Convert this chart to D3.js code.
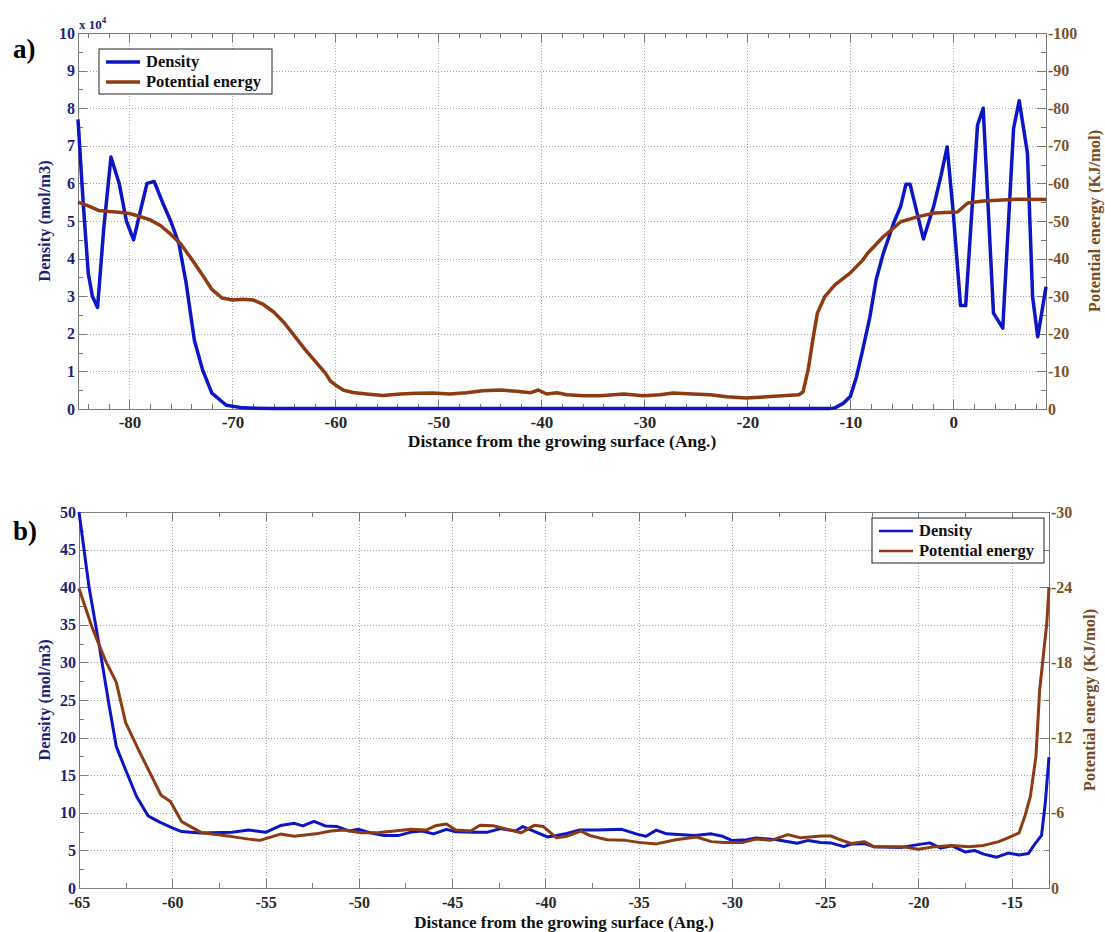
<!DOCTYPE html>
<meta charset="utf-8">
<style>
body { margin: 0; background: #fff; }
svg text { font-family: 'Liberation Serif', 'Times New Roman', serif; font-weight: bold; }
.grid line { stroke: #a8a8a8; stroke-dasharray: 1,2; shape-rendering: crispEdges; }
.grid path { stroke-width: 0; }
.axis path, .axis line { stroke: #7a7a7a; fill: none; shape-rendering: crispEdges; }
.frame { stroke: #7a7a7a; fill: none; shape-rendering: crispEdges; }
.density { stroke: #0c16c4; fill: none; stroke-linejoin: round; }
.potential { stroke: #8c3b12; fill: none; stroke-linejoin: round; }
.left text { fill: #1d1f78; font-size: 16px; }
.right text { fill: #7b5228; font-size: 16px; }
.bottom text { fill: #2a2a2a; }
</style>
<body>
<script src="https://d3js.org/d3.v7.min.js"></script>
<script>
// ---- panel a data: x (Ang.), density (x 10^4 mol/m3), potential (KJ/mol)
var densityA = [
  [-85,7.7],[-84.5,5.5],[-84,3.6],[-83.6,3.0],[-83.1,2.7],[-82.5,4.8],[-81.8,6.7],[-81,6.0],
  [-80.3,5.0],[-79.6,4.5],[-79,5.2],[-78.3,6.0],[-77.6,6.05],[-76.8,5.5],[-76,5.0],[-75.2,4.4],
  [-74.5,3.35],[-73.7,1.83],[-72.9,1.04],[-72,0.42],[-70.6,0.1],[-69,0.03],[-66,0.01],[-12,0.01],
  [-11.5,0.03],[-10.7,0.15],[-10,0.33],[-9.4,0.86],[-8.8,1.57],[-8.1,2.45],[-7.5,3.43],[-6.8,4.14],
  [-5.8,4.94],[-5.1,5.4],[-4.6,5.98],[-4.2,5.98],[-2.9,4.52],[-1.9,5.4],[-1.2,6.2],[-0.6,6.97],
  [0,5.2],[0.7,2.75],[1.2,2.75],[2.35,7.55],[2.9,8.0],[3.9,2.55],[4.8,2.15],[5.85,7.46],
  [6.4,8.2],[7.2,6.8],[7.7,2.98],[8.2,1.92],[9,3.25]
];
var potentialA = [
  [-85,-55],[-84,-54],[-83,-52.8],[-82,-52.5],[-81,-52.3],[-80,-52],[-79,-51.2],[-78,-50.3],
  [-77,-48.8],[-76,-46.5],[-75,-43.8],[-74,-40],[-73,-36],[-72,-31.8],[-71,-29.5],[-70,-29],
  [-69,-29.2],[-68,-29],[-67,-27.8],[-66,-25.8],[-65,-23],[-64,-19.5],[-63,-16],[-62,-12.8],
  [-61,-9.6],[-60.5,-7.5],[-60,-6.4],[-59.2,-5],[-58.3,-4.4],[-57,-4],[-55.4,-3.6],[-53.7,-4],
  [-52.1,-4.2],[-50.5,-4.25],[-48.9,-4],[-47.3,-4.3],[-45.7,-4.87],[-44,-5.05],[-42.4,-4.7],
  [-41.1,-4.3],[-40.3,-5.05],[-39.5,-4],[-38.5,-4.3],[-37.5,-3.8],[-35.9,-3.5],[-34.3,-3.5],
  [-32,-4],[-30.1,-3.5],[-28.5,-3.8],[-27.2,-4.25],[-25.3,-4],[-23.6,-3.8],[-22,-3.27],
  [-20.1,-2.92],[-18.1,-3.27],[-16.2,-3.6],[-15,-3.8],[-14.6,-4.5],[-14.1,-10.4],[-13.6,-19.1],
  [-13.2,-25.5],[-12.5,-29.8],[-11.5,-33],[-10,-36.2],[-8.8,-39.6],[-8.3,-41.5],[-6.8,-45.8],
  [-5.1,-49.8],[-3.5,-51.1],[-1.9,-52.1],[0.4,-52.4],[1.4,-54.8],[2.9,-55.3],[6.2,-55.8],[9,-55.7]
];
// ---- panel b data
var densityB = [
  [-65,50],[-64.46,40],[-63.9,32],[-63.4,24.5],[-63,18.8],[-62.5,15.7],[-61.9,12.1],[-61.3,9.6],
  [-60.7,8.8],[-60,8.0],[-59.5,7.5],[-58.5,7.3],[-56.8,7.4],[-55.9,7.7],[-55,7.4],[-54.2,8.3],
  [-53.45,8.6],[-53,8.26],[-52.4,8.85],[-51.8,8.26],[-51.15,8.17],[-50.5,7.57],[-50,7.8],
  [-49.4,7.34],[-48.65,6.97],[-47.9,6.97],[-47.2,7.43],[-46.6,7.57],[-46,7.2],[-45.3,7.8],
  [-44.8,7.48],[-43.85,7.43],[-43.1,7.43],[-42.4,7.9],[-41.6,7.57],[-41.2,8.17],[-40.5,7.43],
  [-39.9,6.79],[-39.4,6.97],[-38.85,7.25],[-38.2,7.7],[-37.2,7.7],[-35.9,7.8],[-35,7.1],
  [-34.6,6.88],[-34.05,7.7],[-33.5,7.2],[-32,6.97],[-31.1,7.2],[-30.5,6.88],[-30,6.33],
  [-29.2,6.42],[-28.7,6.65],[-27.6,6.42],[-26.5,5.96],[-25.9,6.33],[-25.25,6.06],[-24.7,6.0],
  [-24,5.5],[-23.6,5.85],[-22.9,5.9],[-22.4,5.5],[-20.9,5.4],[-20.2,5.7],[-19.4,6.0],[-18.8,5.3],
  [-18.2,5.6],[-17.5,4.8],[-17,5.0],[-16.5,4.5],[-15.8,4.1],[-15.2,4.65],[-14.6,4.4],[-14.1,4.6],
  [-13.8,5.7],[-13.4,7.0],[-13.2,11.3],[-13,17.4]
];
var potentialB = [
  [-65,-23.9],[-64.3,-20.8],[-63.6,-18.2],[-63,-16.4],[-62.5,-13.2],[-61.8,-11],[-61.1,-8.9],
  [-60.6,-7.4],[-60.1,-6.9],[-59.5,-5.3],[-58.9,-4.8],[-58.4,-4.4],[-56.8,-4.1],[-55.9,-3.9],
  [-55.3,-3.8],[-54.2,-4.3],[-53.45,-4.13],[-52.3,-4.32],[-51.5,-4.54],[-50.8,-4.62],[-49.9,-4.4],
  [-49,-4.4],[-48.1,-4.54],[-47.2,-4.68],[-46.4,-4.62],[-45.9,-4.96],[-45.3,-5.1],[-44.8,-4.62],
  [-44,-4.54],[-43.5,-5.0],[-42.8,-4.96],[-42,-4.68],[-41.3,-4.4],[-40.6,-5.0],[-40.1,-4.9],
  [-39.4,-4.0],[-38.85,-4.13],[-38.1,-4.54],[-37.6,-4.18],[-36.7,-3.85],[-35.7,-3.8],[-35,-3.64],
  [-34.05,-3.52],[-33,-3.85],[-31.9,-4.07],[-31.1,-3.7],[-30.4,-3.64],[-29.4,-3.64],[-28.7,-3.9],
  [-27.9,-3.8],[-27,-4.26],[-26.3,-4.0],[-25.2,-4.15],[-24.7,-4.15],[-24.1,-3.8],[-23.6,-3.55],
  [-22.9,-3.7],[-22.4,-3.3],[-20.9,-3.3],[-20,-3.1],[-19.1,-3.3],[-18.2,-3.4],[-17.3,-3.3],
  [-16.5,-3.4],[-15.7,-3.7],[-15.2,-4.0],[-14.6,-4.4],[-14.3,-5.7],[-14,-7.3],[-13.7,-10.5],
  [-13.5,-15.8],[-13.12,-21.1],[-13,-24]
];

// ticks
var xTicksA = [-80,-70,-60,-50,-40,-30,-20,-10,0];
var leftTicksA = [0,1,2,3,4,5,6,7,8,9,10];
var rightTicksA = [0,-10,-20,-30,-40,-50,-60,-70,-80,-90,-100];
var xTicksB = [-65,-60,-55,-50,-45,-40,-35,-30,-25,-20,-15];
var leftTicksB = [0,5,10,15,20,25,30,35,40,45,50];
var rightTicksB = [0,-6,-12,-18,-24,-30];
var legendLabels = ["Density", "Potential energy"];

var svg = d3.select("body").append("svg").attr("width", 1105).attr("height", 932);

function range(a, b, step) {
  var out = [];
  for (var v = a; v <= b + 1e-9; v += step) out.push(+v.toFixed(4));
  return out;
}

function panel(p) {
  var x = d3.scaleLinear().domain(p.xDomain).range([p.left, p.right]);
  var y = d3.scaleLinear().domain(p.yDomain).range([p.bottom, p.top]);
  var yR = d3.scaleLinear().domain(p.rDomain).range([p.bottom, p.top]);
  var h = p.bottom - p.top, w = p.right - p.left;
  var g = svg.append("g");

  // gridlines
  g.append("g").attr("class", "grid")
    .attr("transform", "translate(0," + p.bottom + ")")
    .call(d3.axisBottom(x).tickValues(p.xTicks).tickSize(-h).tickFormat(""));
  g.append("g").attr("class", "grid")
    .attr("transform", "translate(" + p.left + ",0)")
    .call(d3.axisLeft(y).tickValues(p.leftTicks.slice(1, -1)).tickSize(-w).tickFormat(""));

  // frame
  g.append("rect").attr("class", "frame")
    .attr("x", p.left).attr("y", p.top).attr("width", w).attr("height", h);

  // minor ticks
  g.append("g").attr("class", "axis").attr("transform", "translate(0," + p.bottom + ")")
    .call(d3.axisBottom(x).tickValues(p.xMinor).tickSize(-5).tickSizeOuter(0).tickFormat(""));
  g.append("g").attr("class", "axis").attr("transform", "translate(0," + p.top + ")")
    .call(d3.axisTop(x).tickValues(p.xMinor).tickSize(-5).tickSizeOuter(0).tickFormat(""));
  g.append("g").attr("class", "axis").attr("transform", "translate(" + p.left + ",0)")
    .call(d3.axisLeft(y).tickValues(p.leftMinor).tickSize(-5).tickSizeOuter(0).tickFormat(""));
  g.append("g").attr("class", "axis").attr("transform", "translate(" + p.right + ",0)")
    .call(d3.axisRight(yR).tickValues(p.rightMinor).tickSize(-5).tickSizeOuter(0).tickFormat(""));

  // major ticks + labels
  g.append("g").attr("class", "axis bottom").attr("transform", "translate(0," + p.bottom + ")")
    .call(d3.axisBottom(x).tickValues(p.xTicks).tickSize(-9).tickSizeOuter(0).tickPadding(p.xPad)
      .tickFormat(function(d) { return String(d); }))
    .selectAll("text").style("font-size", p.xFont);
  g.append("g").attr("class", "axis").attr("transform", "translate(0," + p.top + ")")
    .call(d3.axisTop(x).tickValues(p.xTicks).tickSize(-9).tickSizeOuter(0).tickFormat(""));
  g.append("g").attr("class", "axis left").attr("transform", "translate(" + p.left + ",0)")
    .call(d3.axisLeft(y).tickValues(p.leftTicks).tickSize(-9).tickSizeOuter(0).tickPadding(3)
      .tickFormat(function(d) { return String(d); }));
  g.append("g").attr("class", "axis right").attr("transform", "translate(" + p.right + ",0)")
    .call(d3.axisRight(yR).tickValues(p.rightTicks).tickSize(-9).tickSizeOuter(0).tickPadding(2)
      .tickFormat(function(d) { return String(d); }));

  // lines
  var lineL = d3.line().x(function(d) { return x(d[0]); }).y(function(d) { return y(d[1]); });
  var lineR = d3.line().x(function(d) { return x(d[0]); }).y(function(d) { return yR(d[1]); });
  g.append("path").attr("class", "density").attr("stroke-width", p.lw).attr("d", lineL(p.density));
  g.append("path").attr("class", "potential").attr("stroke-width", p.lw).attr("d", lineR(p.potential));

  // axis titles
  g.append("text").attr("x", (p.left + p.right) / 2).attr("y", p.xTitleY)
    .attr("text-anchor", "middle").style("font-size", p.titleFont).style("fill", "#111")
    .text("Distance from the growing surface (Ang.)");
  g.append("text").attr("transform", "translate(" + p.yTitleX + "," + (p.top + p.bottom) / 2 + ") rotate(-90)")
    .attr("text-anchor", "middle").style("font-size", "16.5px").style("fill", "#1d1f78")
    .text("Density (mol/m3)");
  g.append("text").attr("transform", "translate(" + p.rTitleX + "," + (p.top + p.bottom) / 2 + ") rotate(-90)")
    .attr("text-anchor", "middle").style("font-size", "16.5px").style("fill", "#7b4a1e")
    .text("Potential energy (KJ/mol)");

  // panel letter
  g.append("text").attr("x", 13).attr("y", p.top + p.letterDy)
    .style("font-size", "27px").style("fill", "#000").text(p.letter);

  // legend
  var lg = g.append("g").attr("transform", "translate(" + p.legend[0] + "," + p.legend[1] + ")");
  lg.append("rect").attr("width", p.legend[2]).attr("height", 45)
    .attr("fill", "#fff").attr("stroke", "#222").attr("stroke-width", 1);
  [["density", 0], ["potential", 1]].forEach(function(s) {
    var yy = 13 + s[1] * 20;
    lg.append("line").attr("class", s[0]).attr("stroke-width", p.legendLw)
      .attr("x1", 7).attr("x2", 41).attr("y1", yy).attr("y2", yy);
    lg.append("text").attr("x", 47).attr("y", yy + 5).style("font-size", "16.5px")
      .style("fill", "#111").text(legendLabels[s[1]]);
  });
  return g;
}

var ga = panel({
  letter: "a)", letterDy: 25,
  left: 78, right: 1046, top: 33, bottom: 409,
  xDomain: [-85, 9], yDomain: [0, 10], rDomain: [0, -100],
  xTicks: xTicksA, leftTicks: leftTicksA, rightTicks: rightTicksA,
  xMinor: range(-84, 8, 2), leftMinor: range(0.5, 9.5, 1), rightMinor: range(-95, -5, 10),
  density: densityA, potential: potentialA, lw: 3.5, legendLw: 3.5,
  xPad: 7, xFont: "17px", titleFont: "17.5px",
  xTitleY: 447, yTitleX: 50, rTitleX: 1100,
  legend: [99, 49, 173]
});
// exponent label of the left axis
var ex = ga.append("text").attr("x", 79).attr("y", 29).style("font-size", "13px").style("fill", "#1d1f78");
ex.append("tspan").text("x 10");
ex.append("tspan").attr("dy", -6).style("font-size", "9px").text("4");

panel({
  letter: "b)", letterDy: 28,
  left: 79, right: 1049, top: 512, bottom: 888,
  xDomain: [-65, -13], yDomain: [0, 50], rDomain: [0, -30],
  xTicks: xTicksB, leftTicks: leftTicksB, rightTicks: rightTicksB,
  xMinor: range(-62.5, -15, 5), leftMinor: range(2.5, 47.5, 5), rightMinor: range(-27, -3, 6),
  density: densityB, potential: potentialB, lw: 3, legendLw: 2.5,
  xPad: 9, xFont: "16px", titleFont: "17px",
  xTitleY: 928, yTitleX: 50, rTitleX: 1095,
  legend: [872, 518, 172]
});
</script>
